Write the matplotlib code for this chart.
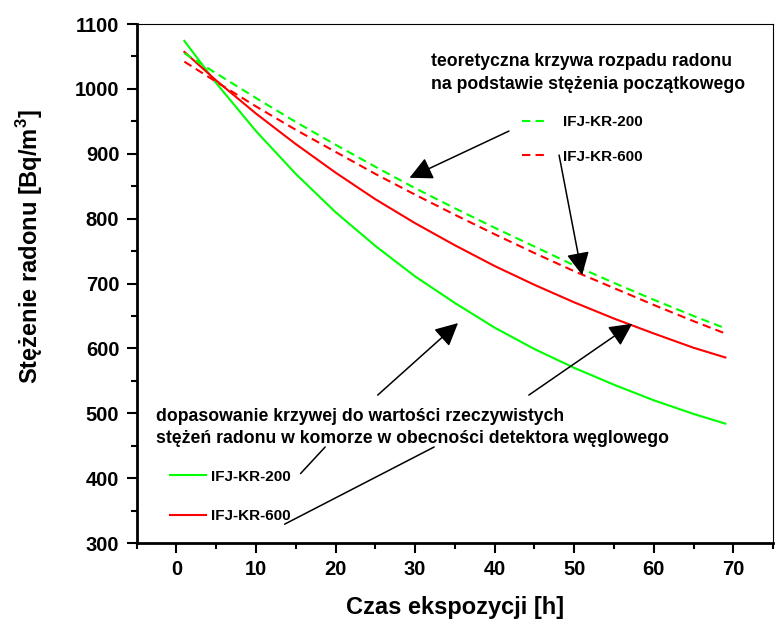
import matplotlib
matplotlib.use("Agg")
import matplotlib.pyplot as plt

plt.rcParams['font.family'] = ['Liberation Sans', 'DejaVu Sans']
plt.rcParams['font.weight'] = 'bold'
plt.rcParams['mathtext.fontset'] = 'custom'
plt.rcParams['mathtext.rm'] = 'Liberation Sans:bold'
plt.rcParams['mathtext.bf'] = 'Liberation Sans:bold'

# czas ekspozycji [h]
czas = [1, 5, 10, 15, 20, 25, 30, 35, 40, 45, 50, 55, 60, 65, 69]

# dopasowanie do zmierzonych stężeń
fit_200 = [1074, 1009, 935, 869, 810, 758, 711, 670, 632, 599, 570, 544, 520, 499, 484]
fit_600 = [1057, 1013, 962, 915, 871, 830, 793, 759, 727, 698, 671, 646, 623, 601, 586]

# teoretyczny rozpad radonu
teor_200 = [1055, 1024, 986, 949, 914, 880, 847, 816, 786, 757, 728, 701, 675, 650, 631]
teor_600 = [1042, 1011, 973, 937, 903, 869, 837, 806, 776, 747, 719, 693, 667, 642, 623]

labels = ['IFJ-KR-200', 'IFJ-KR-600']
GREEN = '#00FF00'
RED = '#FF0000'
DASH = (0, (4, 2.5))

fig = plt.figure(figsize=(7.75, 6.21), dpi=100)
ax = fig.add_axes([0.1763, 0.1256, 0.8212, 0.8357])

g_fit, = ax.plot(czas, fit_200, color=GREEN, lw=1.5)
r_fit, = ax.plot(czas, fit_600, color=RED, lw=1.5)
g_teo, = ax.plot(czas, teor_200, color=GREEN, lw=1.5, linestyle=DASH)
r_teo, = ax.plot(czas, teor_600, color=RED, lw=1.5, linestyle=DASH)

ax.set_xlim(-5, 75)
ax.set_ylim(300, 1100)
ax.set_xticks(range(0, 71, 10))
ax.set_xticks(range(-5, 76, 10), minor=True)
ax.set_yticks(range(300, 1101, 100))
ax.set_yticks(range(350, 1100, 100), minor=True)

for s in ['left', 'bottom']:
    ax.spines[s].set_linewidth(2)
for s in ['top', 'right']:
    ax.spines[s].set_linewidth(0.8)
ax.tick_params(which='both', direction='out', top=False, right=False, width=1.5)
ax.tick_params(which='major', length=7.5, labelsize=14.5)
ax.tick_params(which='minor', length=4)
ax.tick_params(axis='x', which='major', pad=4.5)
ax.tick_params(axis='y', which='major', pad=5)

ax.set_xlabel('Czas ekspozycji [h]', fontsize=17, fontweight='bold', va='center')
ax.xaxis.set_label_coords(0.5, -0.125)
ax.set_ylabel('Stężenie radonu [Bq/m$^{3}$]', fontsize=17, fontweight='bold', va='center')
ax.yaxis.set_label_coords(-0.169, 0.571)

# opisy
ax.text(32.0, 1024.5, 'teoretyczna krzywa rozpadu radonu\nna podstawie stężenia początkowego',
        fontsize=12.7, fontweight='bold', ha='left', va='center', linespacing=1.4)
ax.text(-2.6, 478, 'dopasowanie krzywej do wartości rzeczywistych\n'
        'stężeń radonu w komorze w obecności detektora węglowego',
        fontsize=12.7, fontweight='bold', ha='left', va='center', linespacing=1.37)

leg1 = ax.legend([g_teo, r_teo], labels, loc='upper left',
                 bbox_to_anchor=(521.7 / 775, 1 - 115.5 / 621), bbox_transform=fig.transFigure,
                 frameon=False, borderpad=0, borderaxespad=0, handlelength=1.72,
                 handletextpad=1.0, labelspacing=1.31, prop={'size': 11, 'weight': 'bold'})
ax.add_artist(leg1)
ax.legend([g_fit, r_fit], labels, loc='upper left',
          bbox_to_anchor=(170 / 775, 1 - 469.6 / 621), bbox_transform=fig.transFigure,
          frameon=False, borderpad=0, borderaxespad=0, handlelength=2.36,
          handletextpad=0.3, labelspacing=1.69, prop={'size': 11, 'weight': 'bold'})

# strzałki
head = dict(arrowstyle='-|>,head_length=1.4,head_width=0.7', mutation_scale=10,
            color='black', lw=1.1, shrinkA=0, shrinkB=0)
plain = dict(arrowstyle='-', color='black', lw=1.1, shrinkA=0, shrinkB=0)
arrows = [((41.8, 935), (29.3, 863)),
          ((48.1, 898), (51.0, 713)),
          ((25.3, 528), (35.4, 639)),
          ((44.3, 528), (57.3, 638))]
for start, tip in arrows:
    ax.annotate('', xy=tip, xytext=start, arrowprops=head)
for start, end in [((15.6, 407), (18.7, 448)), ((13.6, 329), (32.4, 448))]:
    ax.annotate('', xy=end, xytext=start, arrowprops=plain)

fig.savefig('out.png', dpi=100)
